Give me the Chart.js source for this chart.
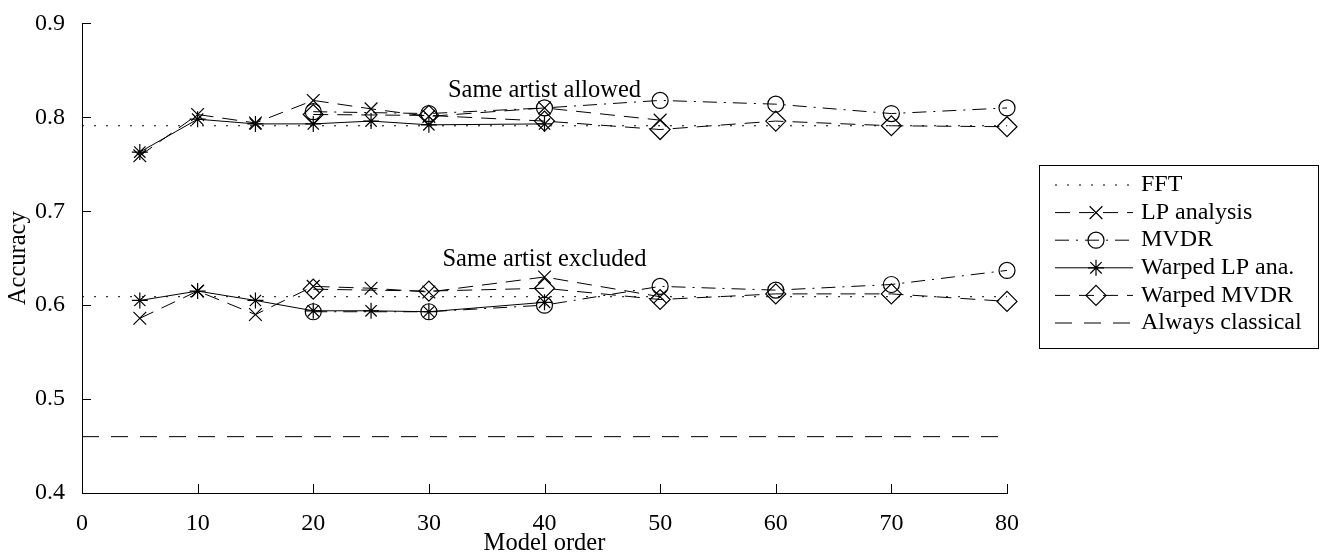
<!DOCTYPE html>
<html>
<head>
<meta charset="utf-8">
<script src="https://cdn.jsdelivr.net/npm/chart.js@4"></script>
<style>
  html, body { margin: 0; padding: 0; background: #fff; }
  canvas { display: block; }
</style>
</head>
<body>
<canvas id="c" width="1321" height="554"></canvas>
<script>
// accuracy vs model order, two groups (same artist allowed / excluded)

const FONT = '"Liberation Serif", "Times New Roman", serif';

const yTicks = [0.4, 0.5, 0.6, 0.7, 0.8, 0.9];
const xTicks = [0, 10, 20, 30, 40, 50, 60, 70, 80];

// FFT / always classical have no model order -> flat lines
const flatOrders = [0, 80];
const fftAllowed = [0.791, 0.791];
const fftExcluded = [0.609, 0.609];
const classical = [0.46, 0.46];

const lpOrders = [5, 10, 15, 20, 25, 30, 40, 50];
const lpAllowed = [0.759, 0.803, 0.794, 0.818, 0.809, 0.801, 0.810, 0.797];
const lpExcluded = [0.586, 0.615, 0.590, 0.620, 0.618, 0.614, 0.630, 0.609];

const mvdrOrders = [20, 30, 40, 50, 60, 70, 80];
const mvdrAllowed = [0.806, 0.804, 0.810, 0.818, 0.814, 0.804, 0.810];
const mvdrExcluded = [0.593, 0.593, 0.600, 0.620, 0.616, 0.622, 0.637];

const wlpOrders = [5, 10, 15, 20, 25, 30, 40];
const wlpAllowed = [0.763, 0.798, 0.793, 0.793, 0.796, 0.792, 0.793];
const wlpExcluded = [0.605, 0.615, 0.605, 0.594, 0.594, 0.593, 0.603];

const wmvdrOrders = [20, 30, 40, 50, 60, 70, 80];
const wmvdrAllowed = [0.803, 0.802, 0.796, 0.787, 0.796, 0.791, 0.790];
const wmvdrExcluded = [0.617, 0.615, 0.618, 0.606, 0.612, 0.612, 0.604];

const legendLabels = ['FFT', 'LP analysis', 'MVDR', 'Warped LP ana.', 'Warped MVDR', 'Always classical'];

const notes = [
  { text: 'Same artist allowed', x: 40, y: 0.828 },
  { text: 'Same artist excluded', x: 40, y: 0.649 },
];

// line / marker styles (matlab-ish :, --x, -.o, -*, --d, --)
const STYLE = {
  fft:   { dash: [2, 10], point: false, radius: 0 },
  lp:    { dash: [15, 9], point: 'crossRot', radius: 9 },
  mvdr:  { dash: [14, 7, 2, 7], point: 'circle', radius: 8 },
  wlp:   { dash: [], point: 'star', radius: 8 },
  wmvdr: { dash: [15, 9], point: 'rectRot', radius: 10 },
  cls:   { dash: [17, 12], point: false, radius: 0 },
};
const legendStyles = [STYLE.fft, STYLE.lp, STYLE.mvdr, STYLE.wlp, STYLE.wmvdr, STYLE.cls];

function series(label, orders, values, st) {
  return {
    label,
    data: orders.map((o, i) => ({ x: o, y: values[i] })),
    borderColor: '#000',
    borderWidth: 1,
    borderDash: st.dash,
    pointStyle: st.point || 'circle',
    pointRadius: st.radius,
    pointHoverRadius: st.radius,
    pointBorderColor: '#000',
    pointBackgroundColor: 'rgba(0,0,0,0)',
    pointBorderWidth: 1.2,
    fill: false,
    tension: 0,
    clip: false,
  };
}

const datasets = [
  series('FFT', flatOrders, fftAllowed, STYLE.fft),
  series('FFT', flatOrders, fftExcluded, STYLE.fft),
  series('LP analysis', lpOrders, lpAllowed, STYLE.lp),
  series('LP analysis', lpOrders, lpExcluded, STYLE.lp),
  series('MVDR', mvdrOrders, mvdrAllowed, STYLE.mvdr),
  series('MVDR', mvdrOrders, mvdrExcluded, STYLE.mvdr),
  series('Warped LP ana.', wlpOrders, wlpAllowed, STYLE.wlp),
  series('Warped LP ana.', wlpOrders, wlpExcluded, STYLE.wlp),
  series('Warped MVDR', wmvdrOrders, wmvdrAllowed, STYLE.wmvdr),
  series('Warped MVDR', wmvdrOrders, wmvdrExcluded, STYLE.wmvdr),
  series('Always classical', flatOrders, classical, STYLE.cls),
];

function drawMarker(ctx, st, x, y) {
  if (!st.point) return;
  const opts = { pointStyle: st.point, rotation: 0, radius: st.radius, borderWidth: 1.2 };
  ctx.save();
  ctx.strokeStyle = '#000';
  ctx.fillStyle = 'rgba(0,0,0,0)';
  ctx.lineWidth = 1.2;
  ctx.setLineDash([]);
  if (Chart.helpers && Chart.helpers.drawPoint) {
    Chart.helpers.drawPoint(ctx, opts, x, y);
  }
  ctx.restore();
}

// inward ticks, text notes and boxed legend
const extras = {
  id: 'extras',
  afterDraw(chart) {
    const { ctx, chartArea } = chart;
    const xs = chart.scales.x, ys = chart.scales.y;
    ctx.save();
    ctx.strokeStyle = '#000';
    ctx.lineWidth = 1;
    ctx.setLineDash([]);
    const tl = 9;
    xTicks.forEach(v => {
      const px = Math.round(xs.getPixelForValue(v)) + 0.5;
      ctx.beginPath();
      ctx.moveTo(px, chartArea.bottom);
      ctx.lineTo(px, chartArea.bottom - tl);
      ctx.stroke();
    });
    yTicks.forEach(v => {
      const py = Math.round(ys.getPixelForValue(v)) + 0.5;
      ctx.beginPath();
      ctx.moveTo(chartArea.left, py);
      ctx.lineTo(chartArea.left + tl, py);
      ctx.stroke();
    });

    ctx.fillStyle = '#000';
    ctx.font = '24.5px ' + FONT;
    ctx.textAlign = 'center';
    ctx.textBaseline = 'middle';
    notes.forEach(n => {
      ctx.fillText(n.text, xs.getPixelForValue(n.x), ys.getPixelForValue(n.y));
    });

    // legend
    const bx = 1039.5, by = 165.5, bw = 279, bh = 183;
    ctx.fillStyle = '#fff';
    ctx.fillRect(bx, by, bw, bh);
    ctx.strokeRect(bx, by, bw, bh);
    ctx.font = '24px ' + FONT;
    ctx.textAlign = 'left';
    ctx.fillStyle = '#000';
    legendLabels.forEach((lab, i) => {
      const st = legendStyles[i];
      const cy = 185 + i * 27.6;
      ctx.save();
      ctx.setLineDash(st.dash);
      ctx.beginPath();
      ctx.moveTo(1055, cy);
      ctx.lineTo(1133, cy);
      ctx.stroke();
      ctx.restore();
      drawMarker(ctx, st, 1096, cy);
      ctx.fillText(lab, 1141, cy);
    });
    ctx.restore();
  }
};

new Chart(document.getElementById('c').getContext('2d'), {
  type: 'line',
  data: { datasets },
  options: {
    responsive: false,
    animation: false,
    events: [],
    layout: { padding: { left: 4, right: 314, top: 19, bottom: 0 } },
    plugins: { legend: { display: false }, tooltip: { enabled: false } },
    scales: {
      x: {
        type: 'linear',
        min: 0, max: 80,
        afterBuildTicks: s => { s.ticks = xTicks.map(v => ({ value: v })); },
        afterFit: s => { s.height = 61; },
        grid: { display: false },
        border: { display: true, color: '#000', width: 1 },
        ticks: { color: '#000', padding: 8, maxRotation: 0, font: { family: FONT, size: 24 } },
        title: { display: true, text: 'Model order', color: '#000', padding: { top: 0, bottom: -4 }, font: { family: FONT, size: 24.5 } },
      },
      y: {
        min: 0.4, max: 0.9,
        afterBuildTicks: s => { s.ticks = yTicks.map(v => ({ value: v })); },
        afterFit: s => { s.width = 78; },
        grid: { display: false },
        border: { display: true, color: '#000', width: 1 },
        ticks: { color: '#000', padding: 9, font: { family: FONT, size: 24 }, callback: v => v.toFixed(1) },
        title: { display: true, text: 'Accuracy', color: '#000', padding: 0, font: { family: FONT, size: 24.5 } },
      },
    },
  },
  plugins: [extras],
});
</script>
</body>
</html>
